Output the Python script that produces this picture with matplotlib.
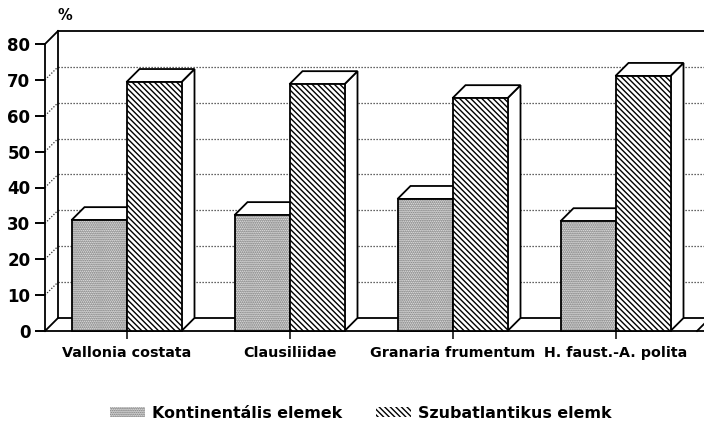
import matplotlib
matplotlib.use('Agg')
import matplotlib.pyplot as plt
from matplotlib.patches import Polygon, Patch

categories = ["Vallonia costata", "Clausiliidae", "Granaria frumentum", "H. faust.-A. polita"]
kontinentalis = [30.9, 32.3, 36.8, 30.6]
szubatlantikus = [69.4, 68.8, 64.9, 71.1]
series_labels = ["Kontinentális elemek", "Szubatlantikus elemk"]
yticks = [0, 10, 20, 30, 40, 50, 60, 70, 80]

plt.rcParams['font.family'] = ['DejaVu Sans']
plt.rcParams['hatch.linewidth'] = 1.0

W, H = 704, 425
fig = plt.figure(figsize=(W / 100, H / 100), dpi=100)
x0px, x1px = 45, 45 + 163 * 4
y0px, y1px = 331, 44
ax = fig.add_axes([x0px / W, (H - y0px) / H, (x1px - x0px) / W, (y0px - y1px) / H])
n = len(categories)
ymax = yticks[-1]
ax.set_xlim(0, n)
ax.set_ylim(0, ymax)
for s in ax.spines.values():
    s.set_visible(False)

# depth offsets in data units
dx = 13 / 163
dy = 13 / (287 / ymax)
bw = 55 / 163
lw = 1.3
dot = (0, (1, 1.4))
gcol = '#333333'

# back wall grid + left wall diagonals
for v in yticks[1:-1]:
    ax.plot([dx, n + dx], [v + dy, v + dy], color=gcol, lw=0.9, ls=dot, clip_on=False, zorder=1)
    ax.plot([0, dx], [v, v + dy], color=gcol, lw=0.9, ls=dot, clip_on=False, zorder=1)
ax.plot([dx, n + dx], [ymax + dy, ymax + dy], color='k', lw=lw, clip_on=False, zorder=1)
ax.plot([0, dx], [ymax, ymax + dy], color='k', lw=lw, clip_on=False, zorder=1)
ax.plot([dx, dx], [dy, ymax + dy], color='k', lw=lw, clip_on=False, zorder=1)
ax.plot([0, 0], [0, ymax], color='k', lw=lw, clip_on=False, zorder=1)
# floor
ax.plot([dx, n + dx], [dy, dy], color='k', lw=lw, clip_on=False, zorder=1)
ax.plot([0, dx], [0, dy], color='k', lw=lw, clip_on=False, zorder=1)
ax.plot([n, n + dx], [0, dy], color='k', lw=lw, clip_on=False, zorder=1)
ax.plot([0, n + 0.1], [0, 0], color='k', lw=lw, clip_on=False, zorder=1)

hatches = ['........', '\\' * 6]
hatch_cols = ['#555555', 'black']
z = 2
for i in range(n):
    c = i + 0.5
    for j, (vals, h, hc) in enumerate(zip([kontinentalis, szubatlantikus], hatches, hatch_cols)):
        v = vals[i]
        left = c - bw if j == 0 else c
        side = Polygon([(left + bw, 0), (left + bw + dx, dy), (left + bw + dx, v + dy), (left + bw, v)],
                       closed=True, facecolor='white', edgecolor='k', lw=lw, zorder=z, clip_on=False)
        ax.add_patch(side)
        top = Polygon([(left, v), (left + bw, v), (left + bw + dx, v + dy), (left + dx, v + dy)],
                      closed=True, facecolor='white', edgecolor='k', lw=lw, zorder=z, clip_on=False)
        ax.add_patch(top)
        ax.bar([left], [v], width=bw, align='edge', facecolor='white', edgecolor=hc,
               hatch=h, lw=0, zorder=z + 0.4, clip_on=False)
        ax.bar([left], [v], width=bw, align='edge', facecolor='none', edgecolor='k',
               lw=lw, zorder=z + 0.5, clip_on=False)
        z += 1

ax.set_yticks(yticks)
ax.set_yticklabels([str(t) for t in yticks], fontsize=12, fontweight='bold')
ax.tick_params(axis='y', length=7, width=1.4, pad=3.5, direction='out')
ax.set_xticks([i + 0.5 for i in range(n)])
ax.set_xticklabels(categories, fontsize=10.3, fontweight='bold')
ax.tick_params(axis='x', length=6, width=1.1, pad=5, direction='out')

fig.text(58 / W, 1 - 15 / H, '%', fontsize=10.5, fontweight='bold', va='center', ha='left')

handles = [Patch(facecolor='white', edgecolor=hatch_cols[0], hatch=hatches[0], lw=0),
           Patch(facecolor='white', edgecolor='k', hatch=hatches[1], lw=0)]
fig.legend(handles, series_labels, loc='center', bbox_to_anchor=(361 / W, 1 - 413 / H), ncol=2,
           frameon=False, prop={'weight': 'bold', 'size': 11.4}, handlelength=2.2, handleheight=0.65,
           handletextpad=0.45, columnspacing=2.1, borderaxespad=0, borderpad=0)

fig.savefig('out.png', dpi=100)
